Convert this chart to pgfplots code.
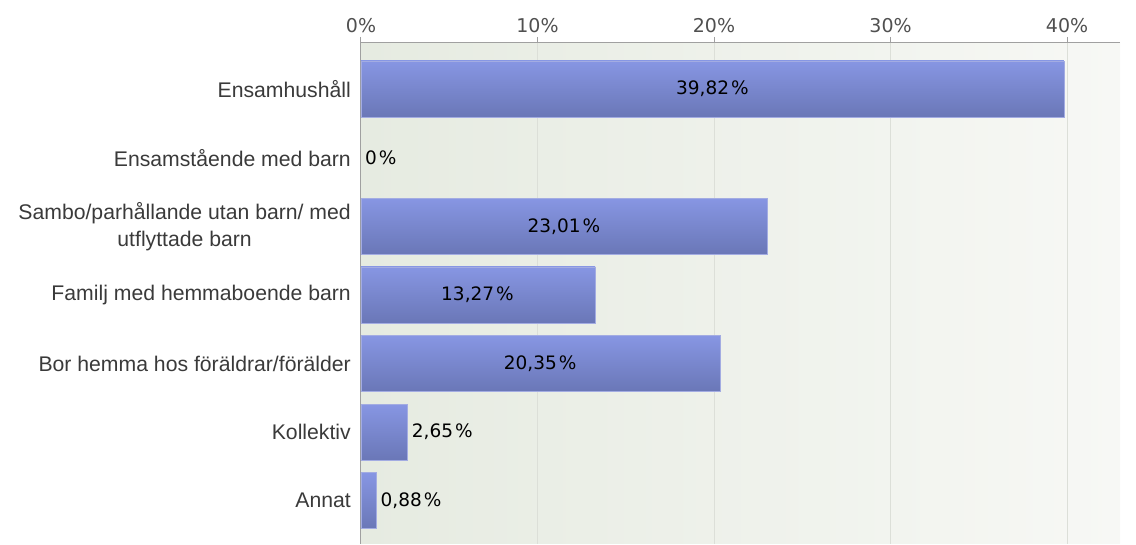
\documentclass[border=0pt]{standalone}
\usepackage{pgfplots}
\pgfplotsset{compat=1.18}
\usepackage{fontspec}
\setmainfont{Liberation Sans}
\newfontfamily\dejavu{DejaVu Sans}
\definecolor{bgL}{HTML}{E6EBE1}
\definecolor{bgR}{HTML}{F7F8F5}
\definecolor{barT}{HTML}{8796E3}
\definecolor{barB}{HTML}{6A77B7}
\definecolor{barD}{HTML}{A3ACE2}
\definecolor{axisC}{HTML}{A0A0A0}
\definecolor{gridC}{HTML}{DCDFD8}
\definecolor{labC}{HTML}{3A3A3A}
\definecolor{tickC}{HTML}{505050}
\pgfplotsset{onebar/.style={xbar, bar width=56pt, bar shift=0pt, draw=barD, line width=0.6pt, top color=barT, bottom color=barB}}
\begin{document}
\begin{tikzpicture}
\useasboundingbox (0,0) rectangle (1136pt,544pt);
\begin{axis}[
  at={(361pt,0pt)}, anchor=south west,
  scale only axis, width=759pt, height=501pt,
  xmin=0, xmax=43, ymin=-0.63, ymax=6.67,
  axis x line=top, axis y line=left,
  axis line style={-, draw=axisC, line width=1pt},
  axis background/.style={left color=bgL, right color=bgR},
  xtick={0,10,20,30,40},
  xticklabels={0\%,10\%,20\%,30\%,40\%},
  xtick align=outside,
  major tick length=6pt,
  x tick style={draw=axisC, line width=1pt},
  xticklabel style={font=\dejavu\fontsize{19}{19}\selectfont, text=tickC, inner sep=0pt, yshift=4pt},
  xmajorgrids, grid style={draw=gridC, line width=1pt},
  ytick={0,1,2,3,4,5,6},
  yticklabels={Annat, Kollektiv, Bor hemma hos föräldrar/förälder, Familj med hemmaboende barn, {Sambo/parhållande utan barn/ med\\utflyttade barn}, Ensamstående med barn, Ensamhushåll},
  y tick style={draw=none},
  yticklabel style={font=\fontsize{21.2}{27}\selectfont, text=labC, align=center, inner sep=0pt, xshift=-7pt},
  clip=false,
]
\addplot[onebar] coordinates {(39.82,6)};
\addplot[onebar] coordinates {(23.01,4)};
\addplot[onebar] coordinates {(13.27,3)};
\addplot[onebar] coordinates {(20.35,2)};
\addplot[onebar] coordinates {(2.65,1)};
\addplot[onebar] coordinates {(0.88,0)};
\addplot[draw=none, mark=none, nodes near coords, point meta=explicit symbolic,
  every node near coord/.style={anchor=center, font=\dejavu\fontsize{18.5}{18}\selectfont, text=black}]
  coordinates {(19.91,6) [39,82\kern2pt\%] (11.5,4) [23,01\kern2pt\%] (6.6,3) [13,27\kern2pt\%] (10.15,2) [20,35\kern2pt\%]};
\addplot[draw=none, mark=none, nodes near coords, point meta=explicit symbolic,
  every node near coord/.style={anchor=west, inner sep=0pt, xshift=4pt, font=\dejavu\fontsize{18.5}{18}\selectfont, text=black}]
  coordinates {(0,5) [0\kern2pt\%] (2.65,1) [2,65\kern2pt\%] (0.88,0) [0,88\kern2pt\%]};
\end{axis}
\end{tikzpicture}
\end{document}
